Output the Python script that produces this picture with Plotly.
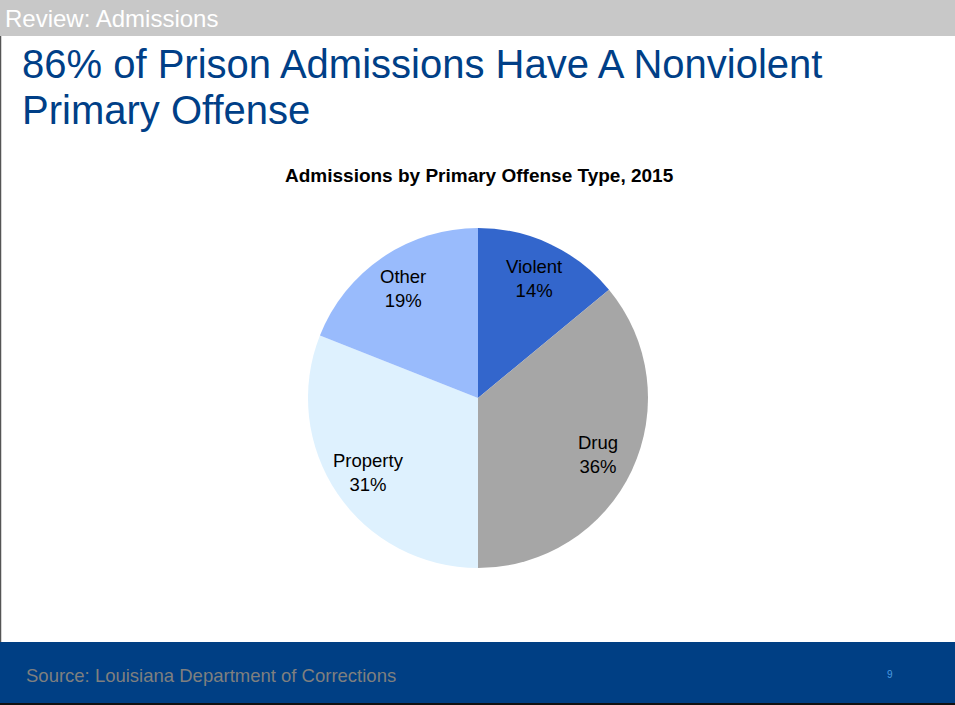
import math
import plotly.graph_objects as go

# Admissions by primary offense type, 2015 (percent of admissions)
offense_types = ["Violent", "Drug", "Property", "Other"]
offense_shares = [14, 36, 31, 19]
slice_colors = ["#3366CC", "#A6A6A6", "#DEF1FE", "#99BBFC"]

W, H = 955, 705
FONT = "Liberation Sans, Arial, sans-serif"

# pie placement in pixels (centre and radius)
PIE_CX, PIE_CY, PIE_R = 478, 398, 170
LABEL_RADIUS = 0.78  # fraction of the radius where slice labels sit

fig = go.Figure()
fig.add_trace(go.Pie(
    labels=offense_types,
    values=offense_shares,
    sort=False,
    direction="clockwise",
    rotation=0,
    marker=dict(colors=slice_colors, line=dict(width=0)),
    textinfo="none",
    hoverinfo="label+percent",
    showlegend=False,
    domain=dict(x=[(PIE_CX - PIE_R) / W, (PIE_CX + PIE_R) / W],
                y=[1 - (PIE_CY + PIE_R) / H, 1 - (PIE_CY - PIE_R) / H]),
))

shapes = [
    # top header bar
    dict(type="rect", xref="paper", yref="paper", x0=0, x1=1, y0=1 - 36 / H, y1=1,
         fillcolor="#C8C8C8", line=dict(width=0), layer="below"),
    # left border line
    dict(type="line", xref="paper", yref="paper", x0=0.5 / W, x1=0.5 / W,
         y0=1 - 642 / H, y1=1 - 36 / H, line=dict(color="#555555", width=1.5)),
    # footer band
    dict(type="rect", xref="paper", yref="paper", x0=0, x1=1, y0=2 / H, y1=1 - 642 / H,
         fillcolor="#003F84", line=dict(width=0), layer="below"),
    # bottom edge
    dict(type="rect", xref="paper", yref="paper", x0=0, x1=1, y0=0, y1=2 / H,
         fillcolor="#111111", line=dict(width=0), layer="below"),
]

annotations = [
    dict(text="Review: Admissions", x=3 / W, y=1 - 18 / H, xanchor="left", yanchor="middle",
         font=dict(family=FONT, size=24, color="#FFFFFF")),
    dict(text="86% of Prison Admissions Have A Nonviolent",
         x=20 / W, y=1 - 64 / H, xanchor="left", yanchor="middle",
         font=dict(family=FONT, size=40, color="#003F87")),
    dict(text="Primary Offense",
         x=20 / W, y=1 - 110 / H, xanchor="left", yanchor="middle",
         font=dict(family=FONT, size=40, color="#003F87")),
    dict(text="<b>Admissions by Primary Offense Type, 2015</b>", x=479 / W, y=1 - 175 / H,
         xanchor="center", yanchor="middle",
         font=dict(family=FONT, size=19, color="#000000")),
    dict(text="Source: Louisiana Department of Corrections", x=24 / W, y=1 - 675 / H,
         xanchor="left", yanchor="middle",
         font=dict(family=FONT, size=18.5, color="#7F7F7F")),
    dict(text="9", x=890 / W, y=1 - 674 / H, xanchor="center", yanchor="middle",
         font=dict(family=FONT, size=10, color="#4A9BE0")),
]

# slice labels placed at the middle angle of each slice
total = sum(offense_shares)
cum = 0
for name, share in zip(offense_types, offense_shares):
    mid = (cum + share / 2) / total
    cum += share
    theta = 2 * math.pi * mid
    px = PIE_CX + LABEL_RADIUS * PIE_R * math.sin(theta)
    py = PIE_CY - LABEL_RADIUS * PIE_R * math.cos(theta)
    annotations.append(dict(
        text=f"{name}<br>{share}%", x=px / W, y=1 - py / H,
        xanchor="center", yanchor="middle", align="center",
        font=dict(family=FONT, size=18.5, color="#000000"),
    ))

for a in annotations:
    a.update(xref="paper", yref="paper", showarrow=False)

fig.update_layout(
    width=W, height=H,
    margin=dict(l=0, r=0, t=0, b=0),
    paper_bgcolor="#FFFFFF",
    plot_bgcolor="#FFFFFF",
    shapes=shapes,
    annotations=annotations,
)

fig.write_html("out.html")
